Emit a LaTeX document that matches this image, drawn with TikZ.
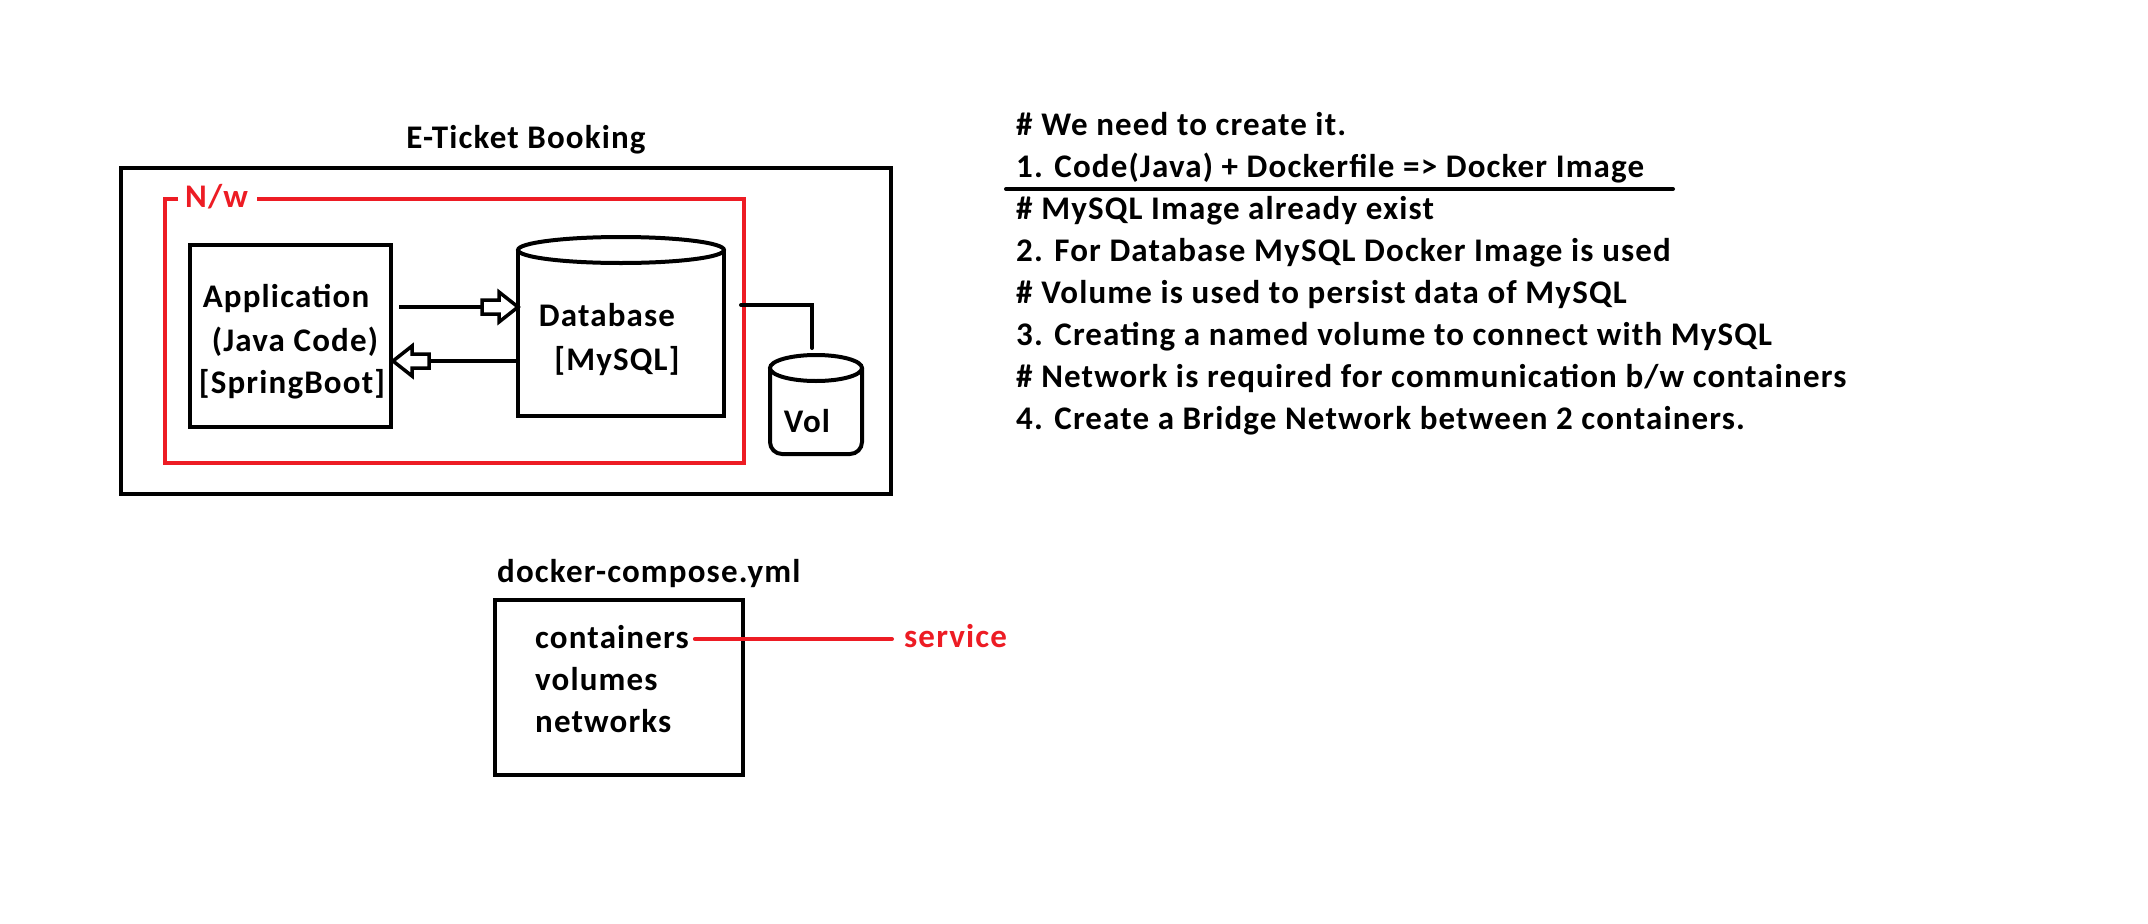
\documentclass[tikz,border=0pt]{standalone}
\usepackage{fontspec}
\setmainfont{Carlito}[LetterSpace=3.5]
\definecolor{pred}{RGB}{237,28,36}
\tikzset{
  hollowhead/.pic={\draw[line width=3.5pt, fill=white, line join=miter]
    (0,0) -- (-19,15) -- (-19,7) -- (-36,7) -- (-36,-7) -- (-19,-7) -- (-19,-15) -- cycle;}
}
\begin{document}
\begin{tikzpicture}[x=1pt,y=-1pt,
  txt/.style={font=\fontsize{33}{39}\selectfont\bfseries, inner sep=0pt},
  frame/.style={draw, line width=4pt, inner sep=0pt},
  ghost/.style={inner sep=0pt, outer sep=0pt},
  conn/.style={draw, line width=4pt},
  netline/.style={draw=pred, line width=4pt},
]
\useasboundingbox[fill=white] (0,0) rectangle (2148,924);

% ---------- E-Ticket Booking ----------
\node[txt, anchor=base] (title) at (526,148) {E-Ticket Booking};
\node[frame, minimum width=770pt, minimum height=326pt] (outer) at (506,331) {};

% network frame
\node[txt, text=pred, anchor=base west] (nw) at (185,207) {N/w};
\draw[netline, line join=miter] (178,199) -- (165,199) -- (165,463) -- (744,463) -- (744,199) -- (257,199);

% application box
\node[frame, minimum width=201pt, minimum height=182pt] (app) at (290.5,336) {};
\node[txt, anchor=base] (app1) at (286,307) {Application};
\node[txt, anchor=base] (app2) at (295,351) {(Java Code)};
\node[txt, anchor=base] (app3) at (292,393) {[SpringBoot]};

% database cylinder
\node[ghost, minimum width=206pt, minimum height=166pt] (db) at (621,333) {};
\draw[line width=4pt, line join=miter] (db.north west) -- (db.south west) -- (db.south east) -- (db.north east);
\draw[line width=4pt, fill=white] (db.north) ellipse [x radius=103, y radius=13];
\node[txt, anchor=base] (db1) at (607,326) {Database};
\node[txt, anchor=base] (db2) at (617,370) {[MySQL]};

% volume cylinder
\node[ghost, minimum width=92pt, minimum height=86pt] (vol) at (816,411) {};
\draw[line width=4pt, rounded corners=12pt] (vol.north west) -- (vol.south west) -- (vol.south east) -- (vol.north east);
\draw[line width=4pt, fill=white] (vol.north) ellipse [x radius=46, y radius=13];
\node[txt, anchor=base] (vol1) at (807,432) {Vol};

% connectors
\draw[conn] ([xshift=6pt,yshift=29pt]app.east) -- ([yshift=26pt]db.west);
\pic at ([yshift=26pt]db.west) {hollowhead};
\draw[conn] ([yshift=-28pt]db.west) -- ([yshift=-25pt]app.east);
\pic[xscale=-1] at ([yshift=-25pt]app.east) {hollowhead};

\coordinate (dbport) at (741,305);
\draw[conn, line cap=round] (dbport) -| ([xshift=-4pt,yshift=20pt]vol.north);

% ---------- docker-compose ----------
\node[txt, anchor=base west] (dc) at (497,582) {docker-compose.yml};
\node[frame, minimum width=248pt, minimum height=175pt] (compose) at (619,687.5) {};
\node[txt, anchor=base west] (cont) at (535,648) {containers};
\node[txt, anchor=base west] (vols) at (535,690) {volumes};
\node[txt, anchor=base west] (nets) at (535,732) {networks};
\node[txt, text=pred, anchor=base west] (svc) at (904,647) {service};
\draw[netline, line cap=round] ([xshift=6pt,yshift=9pt]cont.base east) -- ([xshift=-12pt,yshift=8pt]svc.base west);

% ---------- notes ----------
\node[txt, anchor=base west] (n1) at (1016,135) {\# We need to create it.};
\node[txt, anchor=base west] (n2) at (1016,177.1) {1. Code(Java) + Dockerfile => Docker Image};
\node[txt, anchor=base west] (n3) at (1016,219.2) {\# MySQL Image already exist};
\node[txt, anchor=base west] (n4) at (1016,261.3) {2. For Database MySQL Docker Image is used};
\node[txt, anchor=base west] (n5) at (1016,303.4) {\# Volume is used to persist data of MySQL};
\node[txt, anchor=base west] (n6) at (1016,345.5) {3. Creating a named volume to connect with MySQL};
\node[txt, anchor=base west] (n7) at (1016,387.6) {\# Network is required for communication b/w containers};
\node[txt, anchor=base west] (n8) at (1016,429.7) {4. Create a Bridge Network between 2 containers.};
\draw[line width=4pt, line cap=round] (1006,189) -- (1673,189);
\end{tikzpicture}
\end{document}
